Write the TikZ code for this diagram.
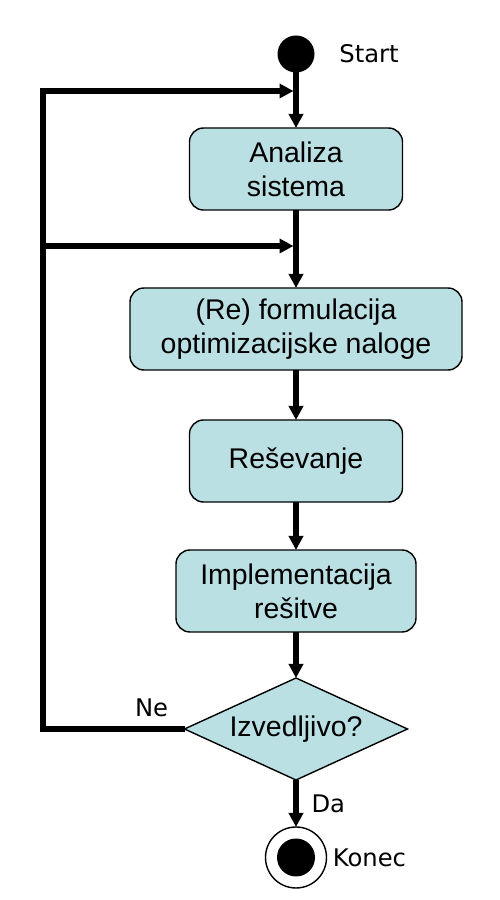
\documentclass[tikz,border=0pt]{standalone}
\usepackage{fontspec}
\setmainfont{Liberation Sans}
\newfontfamily\labelFont{DejaVu Sans}
\usepackage{xcolor}
\definecolor{STEPCOLOR}{RGB}{187,224,227}
\colorlet{LINECOLOR}{black}
\usepackage{tikz}
\usetikzlibrary{shapes.geometric,arrows.meta,positioning}
\tikzset{
  basic-style/.style = {
    rectangle, rounded corners=0.28cm, draw, line width=0.8pt,
    fill=#1, align=center, inner sep=2pt, outer sep=0pt,
    minimum height=1.64cm,
    font=\fontsize{16.2pt}{19.3pt}\selectfont
  },
  step-style/.style = {
    basic-style=STEPCOLOR,
    minimum width=#1
  },
  step-style/.default = 4.26cm,
  decision-style/.style = {
    basic-style=STEPCOLOR,
    diamond, rounded corners=0pt, aspect=2.2, inner sep=0pt,
    minimum width=4.46cm, minimum height=2.04cm
  },
  start-style/.style = {
    circle, fill=LINECOLOR, inner sep=0pt, outer sep=0pt, minimum size=0.74cm
  },
  end-style/.style = {
    circle, draw=LINECOLOR, line width=0.8pt, inner sep=0pt, outer sep=0pt,
    minimum size=1.22cm
  },
  label-style/.style = {
    inner sep=0pt, font=\labelFont\fontsize{13.8pt}{16pt}\selectfont
  },
  flow-style/.style = {
    draw=LINECOLOR, line width=2.85pt, line join=miter,
    >={Triangle[length=0.28cm,width=0.28cm]}
  },
  every edge/.style = {flow-style, draw}
}
\def\createStep name:#1 display:#2 width:#3 gap:#4 to:#5;{
  \node [step-style=#3, below=#4 of #5] (#1) {#2}
        edge [<-] (#5);
}

\begin{document}
\begin{tikzpicture}
  \useasboundingbox (0,0) rectangle (10,18);

  \node [start-style] (start) at (5.92,16.92) {};
  \node [label-style, right=0.49cm of start] (start-label) {Start};

  \createStep name:analiza display:{Analiza\\sistema} width:4.26cm gap:1.11cm to:start;
  \createStep name:formulacija display:{(Re) formulacija\\optimizacijske naloge} width:6.64cm gap:1.56cm to:analiza;
  \createStep name:resevanje display:{Reševanje} width:4.26cm gap:1.0cm to:formulacija;
  \createStep name:implementacija display:{Implementacija\\rešitve} width:4.8cm gap:0.96cm to:resevanje;

  \node [decision-style, below=0.92cm of implementacija] (izvedljivo) {Izvedljivo?};
  \path (implementacija) edge [->] (izvedljivo);

  \node [end-style, below=0.94cm of izvedljivo] (konec) {};
  \node [start-style, minimum size=0.76cm] (konec-dot) at (konec) {};
  \node [label-style, right=0.12cm of konec] (konec-label) {Konec};
  \path (izvedljivo) edge [->] node [label-style, right=0.26cm] (da-label) {Da} (konec);

  % povratna zanka
  \coordinate (join-top) at (5.92,16.18);
  \coordinate (join-mid) at (5.92,13.08);
  \coordinate (loop-top) at (0.86,16.18);
  \coordinate (loop-mid) at (0.86,13.08);
  \coordinate (loop-bottom) at (loop-top |- izvedljivo.west);
  \draw [flow-style, ->, shorten >=0.05cm]
    (izvedljivo.west) -- (loop-bottom) -- (loop-top) -- (join-top);
  \draw [flow-style, ->, shorten >=0.05cm] (loop-mid) -- (join-mid);
  \node [label-style, above left=0.24cm and 0.32cm of izvedljivo.west] (ne-label) {Ne};
\end{tikzpicture}
\end{document}
